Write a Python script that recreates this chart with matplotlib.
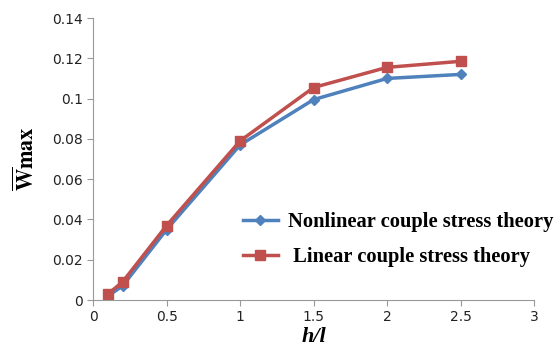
import matplotlib
matplotlib.use('Agg')
import matplotlib.pyplot as plt

plt.rcParams['mathtext.fontset'] = 'stix'

h_over_l = [0.1, 0.2, 0.5, 1.0, 1.5, 2.0, 2.5]
nonlinear = [0.002, 0.007, 0.035, 0.077, 0.0995, 0.110, 0.112]
linear = [0.003, 0.009, 0.037, 0.079, 0.1055, 0.1155, 0.1185]

fig = plt.figure(figsize=(5.58, 3.53), dpi=100)
ax = fig.add_axes([0.167, 0.150, 0.790, 0.799])

ax.plot(h_over_l, nonlinear, color='#4F81BD', lw=2.5, marker='D', ms=5.5,
        label='Nonlinear couple stress theory')
ax.plot(h_over_l, linear, color='#C0504D', lw=2.5, marker='s', ms=7,
        label=' Linear couple stress theory')

ax.set_xlim(0, 3)
ax.set_ylim(0, 0.14)
ax.set_xticks([0, 0.5, 1, 1.5, 2, 2.5, 3])
ax.set_xticklabels(['0', '0.5', '1', '1.5', '2', '2.5', '3'])
ax.set_yticks([0, 0.02, 0.04, 0.06, 0.08, 0.1, 0.12, 0.14])
ax.set_yticklabels(['0', '0.02', '0.04', '0.06', '0.08', '0.1', '0.12', '0.14'])

for s in ['top', 'right']:
    ax.spines[s].set_visible(False)
for s in ['left', 'bottom']:
    ax.spines[s].set_color('#999999')
ax.tick_params(colors='#999999', labelcolor='#222222', labelsize=10, length=4)

ax.set_xlabel('h/l', fontfamily='Liberation Serif', fontstyle='italic',
              fontweight='bold', fontsize=16, labelpad=2)
ax.set_ylabel(r'$\overline{\mathbf{W}}\mathbf{max}$', fontsize=16, labelpad=10)

ax.legend(loc='upper left', bbox_to_anchor=(243 / 558, 1 - 212 / 353),
          bbox_transform=fig.transFigure, frameon=False,
          borderpad=0, borderaxespad=0,
          prop={'family': 'Liberation Serif', 'weight': 'bold', 'size': 14.8},
          handlelength=1.7, handletextpad=0.5, labelspacing=0.75)

fig.savefig('out.png', dpi=100)
